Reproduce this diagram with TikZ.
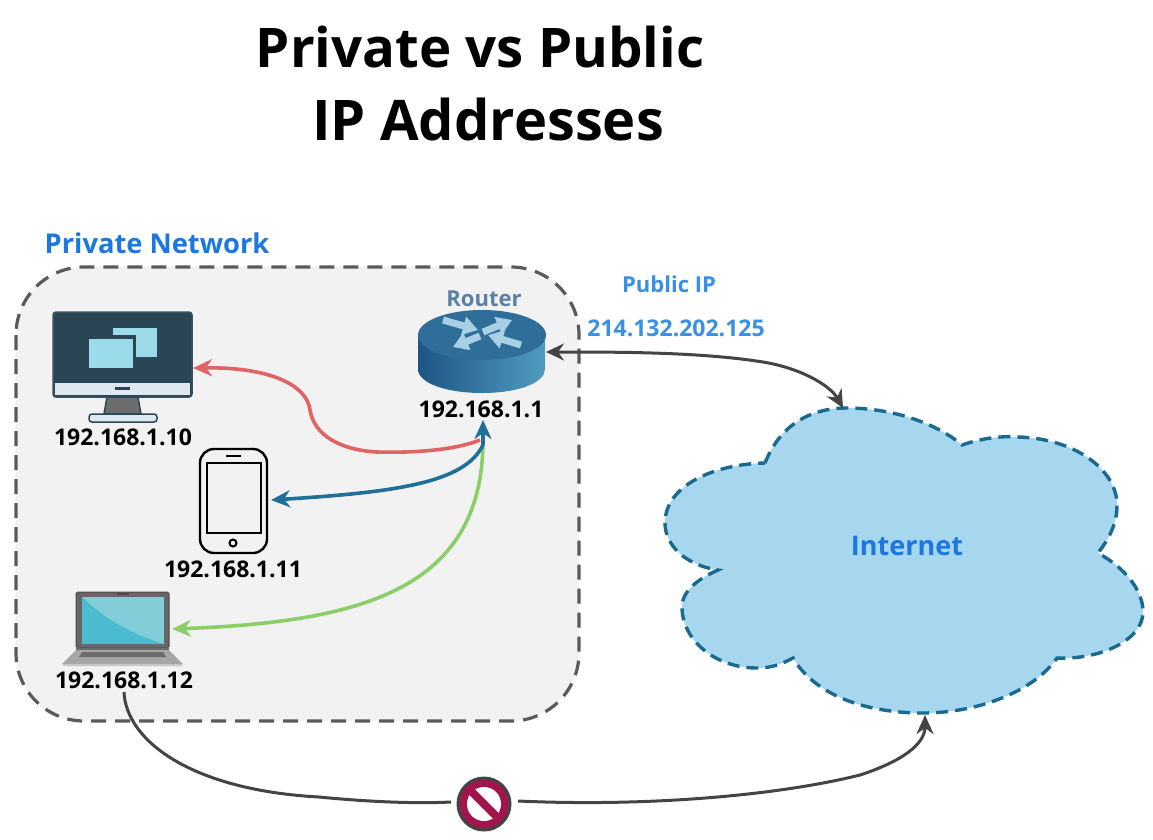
\documentclass[tikz,border=0pt]{standalone}
\usepackage{fontspec}
\setmainfont{Open Sans}
\usetikzlibrary{arrows.meta}
\definecolor{boxfill}{HTML}{F2F2F3}
\definecolor{boxline}{HTML}{5A5A5C}
\definecolor{cloudfill}{HTML}{A6D7EE}
\definecolor{cloudline}{HTML}{1A6A90}
\definecolor{titleblue}{HTML}{1C78E0}
\definecolor{ipblue}{HTML}{3A90E2}
\definecolor{routertext}{HTML}{5A80A8}
\definecolor{redline}{HTML}{E06464}
\definecolor{blueline}{HTML}{1F6F98}
\definecolor{greenline}{HTML}{8CCF6A}
\definecolor{darkline}{HTML}{444446}
\definecolor{screen}{HTML}{2A4655}
\definecolor{win}{HTML}{9CDBE9}
\definecolor{crimson}{HTML}{A2144E}
\definecolor{routertop}{HTML}{2F6E99}
\definecolor{routerl}{HTML}{1F5585}
\definecolor{routerr}{HTML}{4E9CBF}
\definecolor{routerarrow}{HTML}{A8D0E4}
\definecolor{strip}{HTML}{DDE8F0}
\definecolor{lapa}{HTML}{4BBCD0}
\definecolor{lapb}{HTML}{82CDD8}
\tikzset{
  x=1pt,y=-1pt,
  title/.style={font=\fontsize{54.6}{60}\selectfont\bfseries,text=black,inner sep=0},
  iplabel/.style={font=\fontsize{23}{26}\selectfont\bfseries,text=black,inner sep=0},
  pub/.style={font=\fontsize{23}{26}\selectfont\bfseries,text=ipblue,inner sep=0},
  wire/.style={line width=3.6pt,-{Stealth[length=19pt,width=17pt,inset=6pt]}},
  darkwire/.style={line width=3pt,color=darkline},
  arrowtip/.style={-{Stealth[length=19pt,width=17pt,inset=6pt]}},
  rarrow/.style={routerarrow,line width=7pt,-{Stealth[length=15pt,width=18pt,inset=0pt]}},
}
\begin{document}
\begin{tikzpicture}
\useasboundingbox (0,0) rectangle (1153,839);
\fill[white] (0,0) rectangle (1153,839);
% title
\node[title] (t1) at (480,47) {Private vs Public};
\node[title,font=\fontsize{56}{60}\selectfont\bfseries] (t2) at (488,119) {IP Addresses};
% private network
\draw[fill=boxfill,draw=boxline,line width=3.2pt,dash pattern=on 15pt off 9pt,rounded corners=68pt] (16,267) rectangle (579,721);
\node[inner sep=0,text=titleblue,font=\fontsize{27.3}{30}\selectfont\bfseries] (pn) at (157,243) {Private Network};
% cloud
\draw[fill=cloudfill,draw=cloudline,line width=3.4pt,dash pattern=on 12pt off 7pt]
 (765,463) .. controls (780,425) and (810,408) .. (847,408)
 .. controls (890,408) and (935,422) .. (962,445)
 .. controls (985,437) and (1005,436) .. (1017,437)
 .. controls (1075,438) and (1117,470) .. (1117,505)
 .. controls (1117,525) and (1108,540) .. (1098,553)
 .. controls (1125,568) and (1143,590) .. (1143,612)
 .. controls (1143,640) and (1100,660) .. (1057,658)
 .. controls (1035,690) and (980,713) .. (923,713)
 .. controls (865,713) and (815,695) .. (793,658)
 .. controls (780,665) and (770,668) .. (757,668)
 .. controls (715,668) and (682,640) .. (682,607)
 .. controls (682,590) and (700,578) .. (718,570)
 .. controls (685,565) and (665,545) .. (665,523)
 .. controls (665,485) and (715,464) .. (765,463) -- cycle;
\node[inner sep=0,text=titleblue,font=\fontsize{27}{30}\selectfont\bfseries] (inet) at (907,546) {Internet};
% labels
\node[pub,font=\fontsize{22}{26}\selectfont\bfseries] (pubip) at (669,284) {Public IP};
\node[pub] (pubaddr) at (676,328) {214.132.202.125};
% monitor
\draw[fill=screen,draw=screen!80!gray,line width=1.5pt,rounded corners=3pt] (53,312) rectangle (192,397);
\fill[win] (113,328) rectangle (157,357);
\fill[screen] (109,335) rectangle (136,371);
\fill[win] (89,339) rectangle (133,368);
\fill[strip] (55,383) rectangle (190,395);
\fill[screen] (115,387) rectangle (130,390);
\draw[fill=gray!85!black,draw=screen,line width=1.5pt] (107,397) -- (138,397) -- (141,414) -- (104,414) -- cycle;
\draw[fill=strip,draw=screen,line width=1.5pt,rounded corners=3pt] (89,414) rectangle (157,422);
\node[iplabel] (ip10) at (123,437) {192.168.1.10};
% phone
\draw[fill=boxfill,draw=black,line width=2.4pt,rounded corners=14pt] (200,449) rectangle (267,553);
\draw[fill=boxfill,draw=black,line width=2.4pt] (207,463) rectangle (261,533);
\draw[black,line width=1.6pt] (226,456) -- (241,456);
\draw[black,line width=2pt] (233,543) circle (3.5);
\node[iplabel] (ip11) at (233,569) {192.168.1.11};
% laptop
\draw[fill=gray!80!black,draw=gray!60!black,line width=1pt,rounded corners=1.5pt] (76,592) rectangle (169,648);
\fill[lapb] (82,597) rectangle (164,644);
\fill[lapa] (82,597) .. controls (105,620) and (135,635) .. (164,644) -- (82,644) -- cycle;
\fill[black!70] (117,593) rectangle (129,595);
\fill[gray!85!black] (76,648) rectangle (169,650);
\fill[gray!70!white] (76,650) -- (169,650) -- (183,664) -- (62,664) -- cycle;
\fill[gray!85!black] (82,652) -- (163,652) -- (166,657) -- (79,657) -- cycle;
\fill[gray!45!white] (62,664) -- (183,664) -- (181,666) -- (64,666) -- cycle;
\node[iplabel] (ip12) at (124,680) {192.168.1.12};
% router
\shade[left color=routerl,right color=routerr]
  (418,337) -- (418,369) .. controls (418,383) and (446,393) .. (482,393)
  .. controls (518,393) and (545,383) .. (545,369) -- (545,337) -- cycle;
\fill[routertop] (482,335) ellipse [x radius=64, y radius=25];
\draw[rarrow] (443,320) -- (478,330);
\draw[rarrow] (483,332) -- (512,320);
\draw[rarrow] (480,336) -- (453,347);
\draw[rarrow] (521,345) -- (488,335);
\node[inner sep=0,text=routertext,font=\fontsize{22}{26}\selectfont\bfseries] (routerlabel) at (484,299) {Router};
\node[iplabel] (ip1) at (481,409) {192.168.1.1};
% endpoints
\coordinate (rtop) at (483,420);
\coordinate (rhub) at (483,445);
\coordinate (rred) at (480,440);
\coordinate (pcport) at (193,368);
\coordinate (phport) at (271,500);
\coordinate (lpport) at (172,629);
\coordinate (rport) at (546,352);
\coordinate (ctop) at (843,408);
\coordinate (cbot) at (925,715);
\coordinate (lpout) at (124,692);
% wires
\draw[wire,redline] (rred) .. controls (455,450) and (415,453) .. (377,452)
  .. controls (340,450) and (314,435) .. (310,410)
  .. controls (307,385) and (270,367) .. (pcport);
\draw[wire,greenline] (rhub) .. controls (480,590) and (360,622) .. (lpport);
\draw[wire,blueline] (rhub) .. controls (465,482) and (400,492) .. (phport);
\draw[wire,blueline] (rhub) -- (rtop);
\draw[darkwire,{Stealth[length=18pt,width=17pt,inset=6pt]}-{Stealth[length=18pt,width=17pt,inset=6pt]}]
  (rport) .. controls (620,352) and (700,352) .. (763,362) .. controls (800,368) and (830,385) .. (ctop);
% prohibited link
\node[circle,draw=darkline,line width=3pt,fill=crimson,minimum size=52pt,inner sep=0] (block) at (484,804) {};
\fill[white] (block.center) circle (17);
\draw[crimson,line width=8pt] ([shift={(-13,-13)}]block.center) -- ([shift={(13,13)}]block.center);
\draw[darkwire] (lpout) .. controls (126,740) and (190,790) .. (319,797) .. controls (360,801) and (410,804) .. ([xshift=-33,yshift=2]block.center);
\draw[darkwire,arrowtip] ([xshift=34,yshift=3]block.center) .. controls (650,807) and (780,795) .. (860,775) .. controls (900,762) and (925,745) .. (cbot);
\end{tikzpicture}
\end{document}
